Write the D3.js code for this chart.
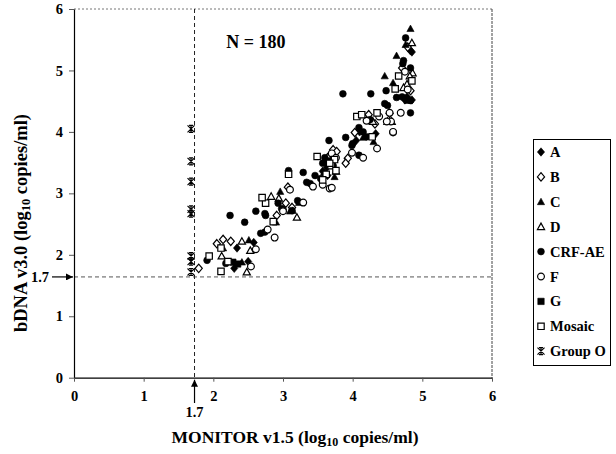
<!DOCTYPE html>
<html><head><meta charset="utf-8">
<script src="https://cdn.jsdelivr.net/npm/d3@7"></script>
<style>body{margin:0;background:#fff}svg text{font-family:"Liberation Serif","Times New Roman",serif;font-weight:bold;fill:#000}</style>
</head><body><svg id="c" width="616" height="454"></svg>
<script>
// ---- data ----
const xTicks = [0, 1, 2, 3, 4, 5, 6];
const yTicks = [0, 1, 2, 3, 4, 5, 6];
const cutoffLabel = "1.7";
const cutoffX = 1.73;   // vertical detection-limit line (MONITOR)
const cutoffY = 1.64;   // horizontal detection-limit line (bDNA)
const categories = ["A", "B", "C", "D", "CRF-AE", "F", "G", "Mosaic", "Group O"];
const seriesA = [[2.58,2.20],[2.34,2.11],[2.30,1.78],[2.50,1.89],[3.64,3.29],[4.10,4.00],[4.33,3.97],[4.05,3.86],[4.75,4.52],[4.83,5.32],[4.85,4.52],[3.63,3.42],[3.57,3.36],[4.78,4.57],[4.85,5.30]];
const seriesB = [[1.79,1.78],[2.14,2.25],[2.25,2.22],[3.04,2.84],[2.91,2.64],[3.07,3.10],[3.13,2.77],[3.64,3.58],[4.23,4.28],[4.53,4.30],[4.32,4.13],[4.03,3.99],[3.72,3.71],[3.77,3.68],[3.93,3.57],[3.90,3.49],[4.71,5.04],[4.79,5.38],[4.83,4.67],[2.05,2.18]];
const seriesC = [[2.51,2.24],[2.14,2.11],[2.41,1.88],[2.96,3.03],[3.10,2.71],[3.14,2.72],[3.23,2.85],[2.90,2.53],[3.59,3.34],[4.15,3.91],[4.30,3.84],[3.74,3.27],[4.79,4.51],[4.46,4.91],[4.58,4.80],[4.83,5.68],[4.63,5.24],[4.76,5.42]];
const seriesD = [[2.41,2.22],[2.53,2.07],[2.12,1.98],[2.48,1.72],[2.83,2.95],[2.94,2.92],[3.20,2.61],[3.76,3.36],[4.29,4.17],[4.50,4.17],[4.86,4.96],[4.78,4.78],[4.73,4.72],[4.56,4.17],[4.85,5.45],[4.82,4.91]];
const seriesCRF = [[1.91,1.91],[2.18,1.86],[2.24,2.64],[2.45,2.53],[2.61,2.71],[2.75,2.64],[2.68,2.35],[2.74,2.37],[2.74,2.67],[2.93,2.84],[3.00,2.74],[2.98,2.75],[3.13,2.72],[3.21,2.88],[3.08,3.37],[3.29,3.34],[3.46,3.29],[3.54,3.24],[3.34,3.18],[3.39,3.16],[3.60,3.58],[3.67,3.53],[3.72,3.45],[3.66,3.86],[3.90,3.91],[4.00,3.81],[3.99,3.78],[4.09,3.62],[3.57,3.49],[4.09,4.07],[4.15,4.00],[4.20,3.92],[4.25,4.20],[4.46,4.46],[4.50,4.43],[4.48,4.67],[4.63,4.56],[4.71,4.57],[4.83,4.51],[4.83,4.31],[4.72,5.11],[4.83,5.04],[4.76,5.53],[4.73,5.16],[4.26,4.62],[3.86,4.62],[3.62,3.52]];
const seriesF = [[2.61,2.09],[2.54,1.81],[2.78,2.41],[2.88,2.28],[3.00,2.71],[3.10,3.06],[3.29,2.85],[3.43,3.11],[3.57,3.14],[3.67,3.08],[3.70,3.65],[3.76,3.58],[3.99,3.66],[4.15,3.58],[3.70,3.09],[4.35,3.73],[4.20,4.18],[4.38,4.25],[4.55,4.17],[4.58,3.99],[4.53,4.31],[4.69,4.31],[4.49,4.17],[4.58,4.00],[4.79,4.69],[4.75,4.98]];
const seriesG = [[2.28,1.88],[2.35,1.85]];
const seriesMosaic = [[1.94,1.98],[2.11,2.11],[2.21,1.89],[2.11,1.73],[2.75,2.84],[2.70,2.93],[2.86,2.54],[3.08,3.31],[3.49,3.60],[3.69,3.45],[3.74,3.55],[3.62,3.31],[3.57,3.22],[3.67,3.49],[3.76,3.37],[4.06,4.25],[4.13,4.28],[4.35,4.31],[4.28,3.92],[4.66,4.91],[4.85,4.83],[4.61,4.70]];
const seriesO = [[1.68,4.05],[1.68,3.52],[1.68,3.19],[1.68,2.74],[1.68,2.67],[1.68,1.98],[1.68,1.89],[1.68,1.72]];
const allSeries = [seriesA, seriesB, seriesC, seriesD, seriesCRF, seriesF, seriesG, seriesMosaic, seriesO];
const sampleLabel = "N = 180";

// ---- drawing ----
const svg = d3.select("#c");
const x = d3.scaleLinear().domain([0, 6]).range([74, 492]);
const y = d3.scaleLinear().domain([0, 6]).range([377.7, 9]);

const markers = [
  {type: "diamond", fill: true}, {type: "diamond", fill: false},
  {type: "triangle", fill: true}, {type: "triangle", fill: false},
  {type: "circle", fill: true}, {type: "circle", fill: false},
  {type: "square", fill: true}, {type: "square", fill: false},
  {type: "star", fill: false}
];
function markerPath(t) {
  const r = 3.6;
  if (t === "diamond") return `M0,${-r-0.6}L${r},0L0,${r+0.6}L${-r},0Z`;
  if (t === "triangle") return `M0,${-r}L${r},${r*0.8}L${-r},${r*0.8}Z`;
  if (t === "square") return `M${-3.2},${-3.2}h6.4v6.4h-6.4Z`;
  if (t === "circle") return d3.symbol(d3.symbolCircle, 36)();
  const s = 3.5;
  return `M${-s},${-s}L${s},${s}M${-s},${s}L${s},${-s}M0,${-s-0.5}L0,${s+0.5}M${-2},${-s}H2M${-2},${s}H2`;
}
function drawMarker(g, m, cx, cy) {
  g.append("path").attr("d", markerPath(m.type))
    .attr("transform", `translate(${cx},${cy})`)
    .attr("fill", m.fill ? "#000" : (m.type === "star" ? "none" : "#fff"))
    .attr("stroke", "#000").attr("stroke-width", m.fill ? 0.6 : 1.2);
}

// frame
svg.append("line").attr("x1", x(0)).attr("x2", x(6)).attr("y1", y(6)).attr("y2", y(6))
  .attr("stroke", "#777").attr("stroke-dasharray", "2,2");
svg.append("line").attr("x1", x(6)).attr("x2", x(6)).attr("y1", y(6)).attr("y2", y(0))
  .attr("stroke", "#444").attr("stroke-dasharray", "3,1");

// reference lines
svg.append("line").attr("x1", x(0)).attr("x2", x(6)).attr("y1", y(cutoffY)).attr("y2", y(cutoffY))
  .attr("stroke", "#555").attr("stroke-dasharray", "4,3");
svg.append("line").attr("x1", x(cutoffX)).attr("x2", x(cutoffX)).attr("y1", y(6)).attr("y2", y(0))
  .attr("stroke", "#222").attr("stroke-dasharray", "4,3");

// axes
const ay = svg.append("g").attr("transform", `translate(${x(0)},0)`)
  .call(d3.axisLeft(y).tickValues(yTicks).tickFormat(d3.format("d")).tickSize(5).tickSizeOuter(0).tickPadding(6));
const ax = svg.append("g").attr("transform", `translate(0,${y(0)})`)
  .call(d3.axisBottom(x).tickValues(xTicks).tickFormat(d3.format("d")).tickSize(4).tickSizeOuter(0).tickPadding(9));
[ax, ay].forEach(g => {
  g.selectAll("text").attr("font-size", 14.5).attr("font-family", null);
  g.select(".domain").attr("stroke", "#000").attr("stroke-width", 1.2);
  g.selectAll(".tick line").attr("stroke", "#555");
});

// arrows for cutoff
svg.append("defs").append("marker").attr("id", "ah").attr("viewBox", "0 0 10 10")
  .attr("refX", 10).attr("refY", 5).attr("markerWidth", 7).attr("markerHeight", 7)
  .attr("markerUnits", "userSpaceOnUse").attr("orient", "auto")
  .append("path").attr("d", "M0,0L10,5L0,10Z").attr("fill", "#000");
svg.append("line").attr("x1", 52).attr("x2", x(0) - 1).attr("y1", y(cutoffY)).attr("y2", y(cutoffY))
  .attr("stroke", "#000").attr("stroke-width", 1.2).attr("marker-end", "url(#ah)");
svg.append("text").attr("x", 49).attr("y", y(cutoffY)).attr("dy", "0.35em").attr("text-anchor", "end")
  .attr("font-size", 14.5).text(cutoffLabel);
svg.append("line").attr("x1", x(cutoffX)).attr("x2", x(cutoffX)).attr("y1", 403).attr("y2", y(0) + 2)
  .attr("stroke", "#000").attr("stroke-width", 1.2).attr("marker-end", "url(#ah)");
svg.append("text").attr("x", x(cutoffX)).attr("y", 412).attr("dy", "0.35em").attr("text-anchor", "middle")
  .attr("font-size", 14.5).text(cutoffLabel);

// points
const pts = svg.append("g");
allSeries.forEach((s, i) => s.forEach(d => drawMarker(pts, markers[i], x(d[0]), y(d[1]))));

// N label
svg.append("text").attr("x", 256).attr("y", 42).attr("dy", "0.35em").attr("text-anchor", "middle")
  .attr("font-size", 18).text(sampleLabel);

// axis titles
const xt = svg.append("text").attr("x", 295).attr("y", 443).attr("text-anchor", "middle").attr("font-size", 17.5);
xt.append("tspan").text("MONITOR v1.5 (log");
xt.append("tspan").attr("font-size", 12).attr("dy", 3).text("10");
xt.append("tspan").attr("dy", -3).text(" copies/ml)");
const yt = svg.append("text").attr("transform", "translate(27,223) rotate(-90)").attr("text-anchor", "middle").attr("font-size", 18.5);
yt.append("tspan").text("bDNA v3.0 (log");
yt.append("tspan").attr("font-size", 12.5).attr("dy", 3).text("10");
yt.append("tspan").attr("dy", -3).text(" copies/ml)");

// legend
const lg = svg.append("g");
lg.append("rect").attr("x", 533.5).attr("y", 139.5).attr("width", 77).attr("height", 226)
  .attr("fill", "#fff").attr("stroke", "#000");
categories.forEach((c, i) => {
  const cy = 152 + i * 24.9;
  drawMarker(lg, markers[i], 541, cy);
  lg.append("text").attr("x", 550).attr("y", cy).attr("dy", "0.35em").attr("font-size", 14.5).text(c);
});
</script></body></html>
